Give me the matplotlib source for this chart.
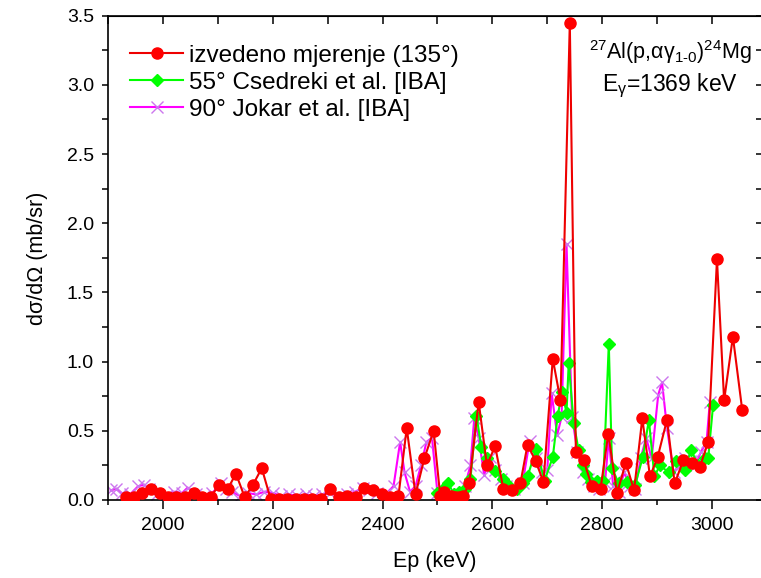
import matplotlib
matplotlib.use("Agg")
import matplotlib.pyplot as plt
from matplotlib.ticker import MultipleLocator

plt.rcParams['font.family'] = ['Liberation Sans', 'DejaVu Sans']
plt.rcParams['mathtext.fontset'] = 'custom'
plt.rcParams['mathtext.rm'] = 'Liberation Sans'
plt.rcParams['mathtext.it'] = 'Liberation Sans'
plt.rcParams['mathtext.bf'] = 'Liberation Sans'

# ---- data ----
E_red = [1932, 1947, 1962, 1978, 1994, 2009, 2024, 2040, 2057, 2071, 2087, 2102, 2118, 2133,
         2149, 2164, 2180, 2196, 2212, 2226, 2243, 2257, 2272, 2288, 2305, 2321, 2336, 2352,
         2367, 2383, 2399, 2414, 2429, 2444, 2460, 2476, 2493, 2505, 2512, 2518, 2525, 2532,
         2540, 2547, 2558, 2575, 2590, 2605, 2620, 2636, 2651, 2664, 2679, 2693, 2710, 2724,
         2741, 2752, 2766, 2781, 2797, 2811, 2827, 2843, 2858, 2873, 2887, 2901, 2918, 2932,
         2948, 2963, 2978, 2993, 3009, 3022, 3038, 3055]
v_red = [0.02, 0.02, 0.05, 0.08, 0.05, 0.02, 0.02, 0.02, 0.05, 0.02, 0.02, 0.11, 0.08, 0.19,
         0.02, 0.11, 0.23, 0.01, 0.01, 0.01, 0.01, 0.01, 0.01, 0.01, 0.08, 0.02, 0.03, 0.02,
         0.09, 0.07, 0.04, 0.02, 0.03, 0.52, 0.04, 0.30, 0.50, 0.03, 0.06, 0.01, 0.03, 0.02,
         0.02, 0.03, 0.12, 0.71, 0.25, 0.39, 0.08, 0.07, 0.12, 0.40, 0.28, 0.13, 1.02, 0.72,
         3.45, 0.35, 0.29, 0.10, 0.08, 0.48, 0.05, 0.27, 0.07, 0.59, 0.17, 0.31, 0.58, 0.12,
         0.29, 0.27, 0.24, 0.42, 1.74, 0.72, 1.18, 0.65]

E_green = [2500, 2510, 2520, 2530, 2540, 2550, 2560, 2571, 2580, 2590, 2604, 2619, 2631, 2645,
           2655, 2664, 2680, 2695, 2710, 2719, 2727, 2735, 2739, 2748, 2757, 2765, 2771, 2780,
           2790, 2802, 2812, 2818, 2830, 2845, 2860, 2874, 2885, 2895, 2905, 2921, 2935, 2950,
           2962, 2975, 2987, 2993, 3002]
v_green = [0.05, 0.08, 0.12, 0.04, 0.06, 0.08, 0.15, 0.61, 0.38, 0.30, 0.21, 0.15, 0.10, 0.08,
           0.12, 0.17, 0.37, 0.14, 0.31, 0.61, 0.78, 0.63, 0.99, 0.56, 0.36, 0.25, 0.19, 0.13,
           0.14, 0.14, 1.13, 0.23, 0.12, 0.13, 0.11, 0.31, 0.58, 0.17, 0.25, 0.20, 0.28, 0.22,
           0.36, 0.25, 0.30, 0.30, 0.69]

E_mag = [1905, 1915, 1925, 1940, 1955, 1965, 1975, 1990, 2005, 2020, 2035, 2045, 2060, 2075,
         2090, 2105, 2115, 2125, 2140, 2155, 2170, 2185, 2200, 2215, 2230, 2245, 2260, 2275,
         2290, 2305, 2320, 2335, 2350, 2365, 2375, 2390, 2405, 2420, 2432, 2440, 2450, 2460,
         2470, 2480, 2490, 2500, 2510, 2520, 2530, 2540, 2550, 2560, 2567, 2575, 2585, 2595,
         2605, 2615, 2625, 2640, 2655, 2668, 2680, 2690, 2700, 2708, 2718, 2726, 2735, 2745,
         2755, 2765, 2775, 2785, 2795, 2805, 2812, 2820, 2830, 2840, 2850, 2860, 2870, 2880,
         2890, 2902, 2909, 2918, 2930, 2940, 2950, 2960, 2970, 2980, 2990, 2996]
v_mag = [0.07, 0.08, 0.05, 0.04, 0.10, 0.11, 0.08, 0.04, 0.03, 0.06, 0.05, 0.09, 0.04, 0.03,
         0.05, 0.12, 0.08, 0.06, 0.03, 0.05, 0.04, 0.06, 0.05, 0.03, 0.04, 0.03, 0.04, 0.03,
         0.04, 0.05, 0.03, 0.04, 0.06, 0.09, 0.07, 0.05, 0.04, 0.10, 0.42, 0.20, 0.06, 0.10,
         0.25, 0.42, 0.45, 0.05, 0.03, 0.04, 0.03, 0.04, 0.10, 0.25, 0.59, 0.45, 0.18, 0.31,
         0.22, 0.15, 0.10, 0.08, 0.12, 0.43, 0.30, 0.20, 0.22, 0.77, 0.47, 0.60, 1.85, 0.60,
         0.35, 0.20, 0.15, 0.10, 0.08, 0.12, 0.45, 0.10, 0.06, 0.20, 0.10, 0.08, 0.30, 0.45,
         0.30, 0.76, 0.85, 0.52, 0.20, 0.25, 0.30, 0.28, 0.25, 0.35, 0.42, 0.71]

labels = ['izvedeno mjerenje (135°)', '55° Csedreki et al. [IBA]', '90° Jokar et al. [IBA]']

# ---- figure ----
W, H = 761, 578
fig = plt.figure(figsize=(W / 100, H / 100), dpi=100)
ax = fig.add_axes([108 / W, 78 / H, (762 - 108) / W, (500 - 15.7) / H])

l_mag, = ax.plot(E_mag, v_mag, color='#ff00ff', lw=1.5, marker='x', ms=8, mew=1.0,
                 mec='#cc77ee', zorder=2)
l_grn, = ax.plot(E_green, v_green, color='#00ff00', lw=1.5, marker='D', ms=6.5,
                 mfc='#00ff00', mec='#00ff00', zorder=3)
l_red, = ax.plot(E_red, v_red, color='#ee0000', lw=1.5, marker='o', ms=8,
                 mfc='#ff0000', mec='#ff0000', zorder=4)

ax.set_xlim(1900, 3091)
ax.set_ylim(0, 3.5)
ax.xaxis.set_major_locator(MultipleLocator(200))
ax.xaxis.set_minor_locator(MultipleLocator(100))
ax.yaxis.set_major_locator(MultipleLocator(0.5))
ax.yaxis.set_minor_locator(MultipleLocator(0.25))
ax.yaxis.set_major_formatter(plt.FuncFormatter(lambda v, p: f'{v:.1f}'))

for s in ax.spines.values():
    s.set_linewidth(1.2)
ax.tick_params(axis='x', which='major', direction='out', length=6.5, width=1.1, labelsize=14, pad=6)
ax.tick_params(axis='x', which='minor', direction='out', length=3.6, width=1.1)
ax.tick_params(axis='y', which='major', direction='out', length=4, width=1.1, labelsize=14, pad=6)
ax.tick_params(axis='y', which='minor', direction='out', length=4, width=1.1)

# top and right inward ticks
top = ax.secondary_xaxis('top')
top.xaxis.set_major_locator(MultipleLocator(200))
top.xaxis.set_minor_locator(MultipleLocator(100))
top.tick_params(which='both', direction='in', length=6, width=1.1, labeltop=False)
right = ax.secondary_yaxis('right')
right.yaxis.set_major_locator(MultipleLocator(0.5))
right.yaxis.set_minor_locator(MultipleLocator(0.25))
right.tick_params(which='both', direction='in', length=4, width=1.1, labelright=False)

ax.set_xlabel('Ep (keV)', fontsize=15.5, labelpad=12)
ax.set_ylabel('dσ/dΩ (mb/sr)', fontsize=15.5, labelpad=14)

leg = ax.legend([l_red, l_grn, l_mag], labels, loc='upper left', frameon=False,
                fontsize=17.5, handlelength=2.2, handletextpad=0.25, labelspacing=0.2,
                borderaxespad=0.5, bbox_to_anchor=(0.0, 0.985))

ax.text(0.735, 0.925, r'$^{27}$Al(p,αγ$_{1\mathregular{\text{-}}0}$)$^{24}$Mg',
        transform=ax.transAxes, fontsize=15.5, va='center', ha='left')
ax.text(0.755, 0.855, r'E$_{\mathregular{γ}}$=1369 keV', transform=ax.transAxes,
        fontsize=16.5, va='center', ha='left')

fig.savefig('out.png', dpi=100)
